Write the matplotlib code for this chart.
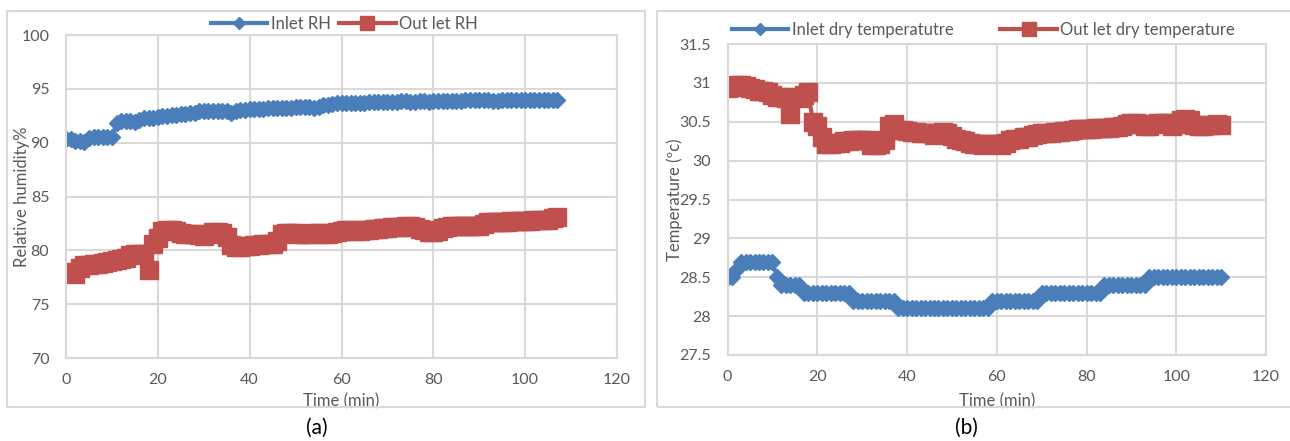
import matplotlib.pyplot as plt
import matplotlib.patches as patches
import numpy as np

plt.rcParams['font.family'] = ['Lato', 'DejaVu Sans']

# ---- data (a): relative humidity, one reading per minute
rh_inlet = [90.3, 90.3, 90.2, 90.2, 90.1, 90.4, 90.5, 90.5, 90.5, 90.5, 90.5,
            91.8, 92.0, 92.0, 92.0, 91.9, 92.1, 92.3, 92.3, 92.3, 92.4,
            92.5, 92.5, 92.6, 92.6, 92.7, 92.7, 92.8, 92.8, 92.9, 92.9,
            92.9, 92.9, 92.9, 92.9, 92.9, 92.8, 92.9, 93.0, 93.0, 93.1,
            93.1, 93.1, 93.1, 93.2, 93.2, 93.2, 93.2, 93.2, 93.2, 93.3,
            93.3, 93.3, 93.3, 93.2, 93.3, 93.5, 93.5, 93.6, 93.7, 93.7,
            93.7, 93.7, 93.7, 93.7, 93.7, 93.8, 93.8, 93.8, 93.8, 93.8,
            93.8, 93.8, 93.9, 93.9, 93.8, 93.8, 93.9, 93.9, 93.8, 93.9,
            93.9, 93.9, 93.9, 93.9, 93.9, 93.9, 94.0, 94.0, 94.0, 94.0,
            94.0, 94.0, 93.9, 93.9, 94.0, 94.0, 94.0, 94.0, 94.0, 94.0,
            94.0, 94.0, 94.0, 94.0, 94.0, 94.0, 94.0]
rh_outlet = [77.9, 78.0, 77.8, 78.4, 78.6, 78.6, 78.7, 78.7, 78.8, 78.9, 79.0,
             79.1, 79.2, 79.3, 79.6, 79.7, 79.7, 79.7, 78.2, 80.6, 81.1,
             81.8, 81.9, 81.9, 81.8, 81.6, 81.5, 81.5, 81.5, 81.4, 81.3,
             81.5, 81.7, 81.7, 81.6, 81.2, 80.5, 80.3, 80.3, 80.4, 80.4,
             80.5, 80.5, 80.6, 80.6, 80.6, 80.9, 81.5, 81.6, 81.6, 81.6,
             81.5, 81.5, 81.5, 81.6, 81.6, 81.5, 81.5, 81.6, 81.7, 81.8,
             81.9, 81.9, 81.8, 81.8, 81.9, 81.9, 82.0, 82.0, 82.1, 82.1,
             82.2, 82.2, 82.2, 82.3, 82.3, 82.2, 82.0, 81.9, 81.7, 81.7,
             81.8, 82.1, 82.2, 82.3, 82.3, 82.3, 82.3, 82.3, 82.3, 82.3,
             82.4, 82.6, 82.6, 82.6, 82.6, 82.6, 82.7, 82.7, 82.7, 82.7,
             82.7, 82.8, 82.8, 82.8, 82.8, 83.0, 83.1]
t_rh = np.arange(len(rh_outlet))

# ---- data (b): dry temperature, one reading per minute
temp_inlet = [28.5, 28.5, 28.6] + [28.7] * 8 + [28.5] + [28.4] * 5 + [28.3] * 11 \
             + [28.2] * 10 + [28.1] * 21 + [28.2] * 11 + [28.3] * 14 + [28.4] * 10 + [28.5] * 17
temp_outlet = [30.93, 30.95, 30.97, 30.97, 30.96, 30.93, 30.92, 30.90, 30.90, 30.88,
               30.85, 30.82, 30.82, 30.80, 30.60, 30.82, 30.80, 30.85, 30.88, 30.50,
               30.45, 30.30, 30.22, 30.22, 30.23, 30.23, 30.25, 30.25, 30.26, 30.27,
               30.27, 30.27, 30.20, 30.20, 30.22, 30.27, 30.45, 30.47, 30.40, 30.39,
               30.38, 30.37, 30.37, 30.36, 30.36, 30.35, 30.33, 30.35, 30.37, 30.36,
               30.32, 30.28, 30.26, 30.25, 30.23, 30.22, 30.21, 30.20, 30.21, 30.22,
               30.22, 30.20, 30.23, 30.27, 30.28, 30.28, 30.30, 30.30, 30.33, 30.34,
               30.35, 30.35, 30.36, 30.37, 30.37, 30.38, 30.38, 30.40, 30.41, 30.41,
               30.41, 30.41, 30.42, 30.42, 30.42, 30.42, 30.43, 30.43, 30.45, 30.47,
               30.48, 30.48, 30.47, 30.44, 30.44, 30.47, 30.49, 30.49, 30.48, 30.45,
               30.47, 30.52, 30.53, 30.52, 30.46, 30.45, 30.45, 30.46, 30.46, 30.47,
               30.46]
t_temp = np.arange(len(temp_outlet))

x_ticks = [0, 20, 40, 60, 80, 100, 120]
rh_ticks = [70, 75, 80, 85, 90, 95, 100]
temp_ticks = [27.5, 28, 28.5, 29, 29.5, 30, 30.5, 31, 31.5]
temp_labels = ['27.5', '28', '28.5', '29', '29.5', '30', '30.5', '31', '31.5']

BLUE = '#4a7ebb'
RED = '#c0504d'
GRID = '#d9d9d9'
TXT = '#595959'

W, H = 1290, 441
fig = plt.figure(figsize=(W / 100, H / 100), dpi=100)

# panel frames
for x0, x1 in [(7, 645), (657, 1292)]:
    fig.add_artist(patches.Rectangle((x0 / W, 1 - 407 / H), (x1 - x0) / W, (407 - 11) / H,
                                     transform=fig.transFigure, fill=False,
                                     edgecolor=GRID, lw=1.5))


def style(ax):
    ax.grid(True, color=GRID, lw=1.5)
    ax.set_axisbelow(True)
    for s in ax.spines.values():
        s.set_color(GRID)
        s.set_linewidth(1.5)
    ax.tick_params(length=0, labelsize=11.5, labelcolor=TXT)
    ax.tick_params(axis='x', pad=11)
    ax.tick_params(axis='y', pad=12)
    ax.set_xlim(0, 120)
    ax.set_xticks(x_ticks)


# (a)
ax1 = fig.add_axes([66 / W, 1 - 358 / H, (617 - 66) / W, (358 - 35) / H])
style(ax1)
ax1.plot(t_rh, rh_inlet, color=BLUE, lw=3, marker='D', ms=8, label='Inlet RH')
ax1.plot(t_rh, rh_outlet, color=RED, lw=3, marker='s', ms=13.5, label='Out let RH')
ax1.set_ylim(70, 100)
ax1.set_yticks(rh_ticks)
ax1.set_xlabel('Time (min)', fontsize=12, color=TXT)
ax1.xaxis.set_label_coords(0.5, -0.108)
ax1.set_ylabel('Relative humidity%', fontsize=12, color=TXT)
ax1.yaxis.set_label_coords(-0.066, 0.5)
ax1.legend(loc='center', bbox_to_anchor=(0.505, 1.035), ncol=2, frameon=False,
           fontsize=12, labelcolor=TXT, handlelength=3.4, markerscale=0.75,
           numpoints=1, columnspacing=0.5, handletextpad=0.2)

# (b)
ax2 = fig.add_axes([727.6 / W, 1 - 355 / H, (1266 - 727.6) / W, (355 - 44) / H])
style(ax2)
ax2.plot(t_temp, temp_inlet, color=BLUE, lw=3, marker='D', ms=8, label='Inlet dry temperatutre')
ax2.plot(t_temp, temp_outlet, color=RED, lw=3, marker='s', ms=13.5, label='Out let dry temperature')
ax2.set_ylim(27.5, 31.5)
ax2.set_yticks(temp_ticks)
ax2.set_yticklabels(temp_labels)
ax2.set_xlabel('Time (min)', fontsize=12, color=TXT)
ax2.xaxis.set_label_coords(0.5, -0.122)
ax2.set_ylabel('Temperature (ºc)', fontsize=12, color=TXT)
ax2.yaxis.set_label_coords(-0.082, 0.5)
ax2.legend(loc='center', bbox_to_anchor=(0.475, 1.045), ncol=2, frameon=False,
           fontsize=12, labelcolor=TXT, handlelength=3.4, markerscale=0.75,
           numpoints=1, columnspacing=2.8, handletextpad=0.2)

fig.text(317 / W, 1 - 428 / H, '(a)', fontsize=15, ha='center', va='center')
fig.text(966 / W, 1 - 428 / H, '(b)', fontsize=15, ha='center', va='center')

fig.savefig('out.png', dpi=100)
